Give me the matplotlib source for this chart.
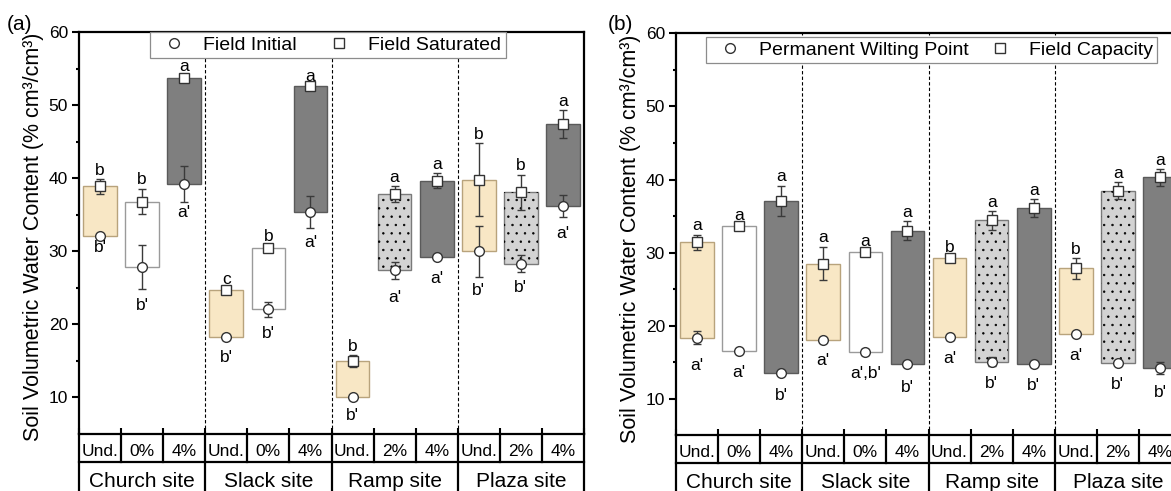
import matplotlib
matplotlib.use("Agg")
import matplotlib.pyplot as plt
from matplotlib.lines import Line2D
from matplotlib.transforms import blended_transform_factory
import numpy as np

plt.rcParams['font.family'] = ['Liberation Sans', 'DejaVu Sans']
plt.rcParams['hatch.linewidth'] = 0.5

# ---------------- data ----------------
sites = ["Church site", "Slack site", "Ramp site", "Plaza site"]
treatments = ["Und.", "0%", "4%", "Und.", "0%", "4%", "Und.", "2%", "4%", "Und.", "2%", "4%"]

# panel (a): field initial (circles) / field saturated (squares)
fi_mean = [32.1, 27.8, 39.2, 18.3, 22.05, 35.4, 10.0, 27.4, 29.2, 30.0, 28.3, 36.2]
fi_err = [0.3, 3.0, 2.4, 0.4, 1.0, 2.2, 0.3, 1.2, 0.3, 3.5, 1.2, 1.5]
fs_mean = [38.9, 36.8, 53.7, 24.65, 30.5, 52.55, 15.0, 37.8, 39.65, 39.8, 38.1, 47.4]
fs_err = [1.0, 1.75, 0.3, 0.3, 0.3, 0.2, 0.8, 1.1, 1.05, 5.0, 2.4, 1.9]
fs_letters = ["b", "b", "a", "c", "b", "a", "b", "a", "a", "b", "b", "a"]
fi_letters = ["b'", "b'", "a'", "b'", "b'", "a'", "b'", "a'", "a'", "b'", "b'", "a'"]

# panel (b): permanent wilting point (circles) / field capacity (squares)
pwp_mean = [18.35, 16.5, 13.5, 18.05, 16.45, 14.7, 18.4, 15.1, 14.75, 18.85, 14.85, 14.2]
pwp_err = [0.9, 0.2, 0.2, 0.3, 0.4, 0.2, 0.3, 0.6, 0.2, 0.2, 0.2, 0.8]
fc_mean = [31.4, 33.6, 37.1, 28.5, 30.05, 33.0, 29.3, 34.4, 36.1, 27.85, 38.45, 40.3]
fc_err = [1.05, 0.2, 2.05, 2.3, 0.2, 1.3, 0.2, 1.25, 1.25, 1.4, 1.15, 1.15]
fc_letters = ["a", "a", "a", "a", "a", "a", "b", "a", "a", "b", "a", "a"]
pwp_letters = ["a'", "a'", "b'", "a'", "a',b'", "b'", "a'", "b'", "b'", "a'", "b'", "b'"]

# ---------------- layout (label baselines, data units) ----------------
a_low_label_y = [29.9, 21.9, 34.65, 14.8, 18.2, 30.55, 6.85, 23.0, 25.6, 23.95, 24.4, 31.8]
b_low_label_y = [13.95, 12.95, 9.85, 14.6, 12.85, 10.95, 14.95, 11.45, 11.2, 15.3, 11.3, 10.3]
top_gap = 0.6

W, H = 1171, 491
fig = plt.figure(figsize=(W / 100, H / 100), dpi=100)

styles = {
    "Und.": dict(fc="#F8E7C5", ec="#B8A37C", hatch=None),
    "0%": dict(fc="white", ec="#9A9A9A", hatch=None),
    "2%": dict(fc="#D3D3D3", ec="#7A7A7A", hatch=".."),
    "4%": dict(fc="#7F7F7F", ec="#5A5A5A", hatch=None),
}


def draw_panel(ax, lo, lo_e, hi, hi_e, hi_let, lo_let, lo_y, leg_labels, leg_anchor, colsp):
    n = len(treatments)
    x = np.arange(n) + 0.5
    for i in range(n):
        st = styles[treatments[i]]
        ax.bar(x[i], hi[i] - lo[i], bottom=lo[i], width=0.8, color=st["fc"],
               edgecolor=st["ec"], linewidth=1.0, zorder=1)
        if st["hatch"]:
            ax.bar(x[i], hi[i] - lo[i], bottom=lo[i], width=0.8, facecolor="none",
                   edgecolor="black", linewidth=0, hatch=st["hatch"], zorder=1.5)
    ecol = "#3A3A3A"
    ax.errorbar(x, hi, yerr=hi_e, fmt="none", ecolor=ecol, elinewidth=1.0,
                capsize=3, capthick=1.0, zorder=2)
    ax.errorbar(x, lo, yerr=lo_e, fmt="none", ecolor=ecol, elinewidth=1.0,
                capsize=3, capthick=1.0, zorder=2)
    ax.plot(x, hi, "s", ms=6.5, mfc="white", mec="#333333", mew=1.0, ls="none", zorder=3)
    ax.plot(x, lo, "o", ms=7, mfc="white", mec="#333333", mew=1.0, ls="none", zorder=3)
    for i in range(n):
        ax.text(x[i], hi[i] + hi_e[i] + top_gap, hi_let[i], ha="center", va="baseline",
                fontsize=12.5, zorder=4)
        ax.text(x[i], lo_y[i], lo_let[i], ha="center", va="baseline", fontsize=12.5, zorder=4)

    for b in (3, 6, 9):
        ax.axvline(b, color="black", lw=0.8, ls=(0, (3, 2)), zorder=0.5)

    ax.set_xlim(0, n)
    ax.set_ylim(5, 60)
    ax.set_yticks([10, 20, 30, 40, 50, 60])
    ax.set_yticks(np.arange(15, 60, 10), minor=True)
    ax.tick_params(axis="y", which="major", direction="out", length=5, width=1.5,
                   labelsize=12.5, pad=3)
    ax.tick_params(axis="y", which="minor", direction="out", length=2.5, width=1.5)
    ax.set_xticks(np.arange(0, n + 1))
    ax.tick_params(axis="x", which="major", direction="in", length=4, width=1.5,
                   labelbottom=False)
    for s in ax.spines.values():
        s.set_linewidth(1.6)

    ax.set_ylabel("Soil Volumetric Water Content (% cm³/cm³)", fontsize=15.5)
    ax.yaxis.label.set_va("center")
    ax.yaxis.set_label_coords(-0.091, 0.49)

    # category table below the axes
    tr = blended_transform_factory(ax.transData, ax.transAxes)
    r1 = -28 / 402.0
    r2 = -0.35
    lw = 1.6
    ax.plot([0, n], [r1, r1], color="black", lw=lw, transform=tr, clip_on=False)
    for b in range(0, n + 1):
        yb = r2 if b % 3 == 0 else r1
        ax.plot([b, b], [0, yb], color="black", lw=lw, transform=tr, clip_on=False)
    for i in range(n):
        ax.text(x[i], -0.0547, treatments[i], ha="center", va="baseline", fontsize=12.5,
                transform=tr)
    for g, name in enumerate(sites):
        ax.text(3 * g + 1.5, -0.131, name, ha="center", va="baseline", fontsize=15,
                transform=tr)

    handles = [
        Line2D([], [], marker="o", ls="none", ms=7, mfc="white", mec="#333333", mew=1.0),
        Line2D([], [], marker="s", ls="none", ms=6.5, mfc="white", mec="#333333", mew=1.0),
    ]
    leg = ax.legend(handles, leg_labels, ncol=2, loc="upper left", bbox_to_anchor=leg_anchor,
                    borderaxespad=0, frameon=True, fancybox=False, edgecolor="#8C8C8C",
                    framealpha=1, fontsize=14, borderpad=0.22, handlelength=2.0,
                    handletextpad=0.5, columnspacing=colsp)
    leg.get_frame().set_linewidth(0.9)
    leg.set_zorder(10)


axA = fig.add_axes([79 / W, (H - 434) / H, 505 / W, 402 / H])
draw_panel(axA, fi_mean, fi_err, fs_mean, fs_err, fs_letters, fi_letters, a_low_label_y,
           ["Field Initial", "Field Saturated"], ((150 - 79) / 505, 1.0), 1.2)

axB = fig.add_axes([676 / W, (H - 435.4) / H, 505 / W, 402.1 / H])
draw_panel(axB, pwp_mean, pwp_err, fc_mean, fc_err, fc_letters, pwp_letters, b_low_label_y,
           ["Permanent Wilting Point", "Field Capacity"], ((706 - 676) / 505, 0.990), 0.6)

fig.text(20 / W, 1 - 25 / H, "(a)", ha="center", va="center", fontsize=15)
fig.text(620 / W, 1 - 25 / H, "(b)", ha="center", va="center", fontsize=15)

fig.savefig("out.png", dpi=100)
